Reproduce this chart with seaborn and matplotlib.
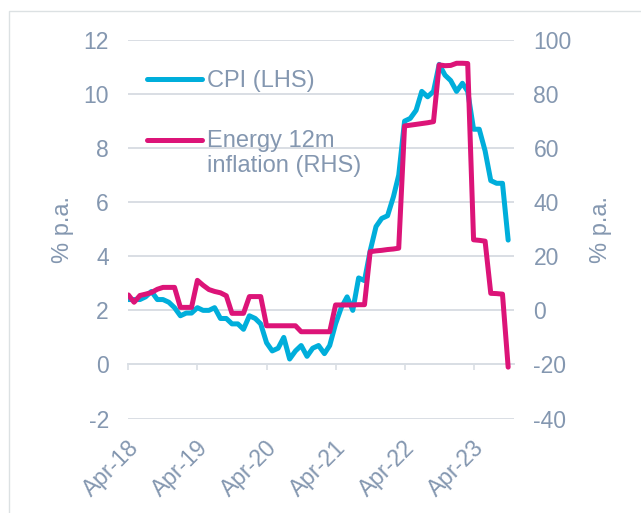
import pandas as pd
import seaborn as sns
import matplotlib.pyplot as plt
import matplotlib.dates as mdates
from matplotlib.patches import Rectangle
from matplotlib.transforms import ScaledTranslation

# monthly data, Apr-18 .. Oct-23
months = pd.date_range('2018-04-01', '2023-10-01', freq='MS')

cpi = [2.4, 2.4, 2.4, 2.5, 2.7, 2.4, 2.4, 2.3, 2.1,
       1.8, 1.9, 1.9, 2.1, 2.0, 2.0, 2.1, 1.7, 1.7, 1.5, 1.5, 1.3,
       1.8, 1.7, 1.5, 0.8, 0.5, 0.6, 1.0, 0.2, 0.5, 0.7, 0.3, 0.6,
       0.7, 0.4, 0.7, 1.5, 2.1, 2.5, 2.0, 3.2, 3.1, 4.2, 5.1, 5.4,
       5.5, 6.2, 7.0, 9.0, 9.1, 9.4, 10.1, 9.9, 10.1, 11.1, 10.7, 10.5,
       10.1, 10.4, 10.1, 8.7, 8.7, 7.9, 6.8, 6.7, 6.7, 4.6]

energy = [5.7, 3.0, 5.5, 6.0, 6.6, 7.8, 8.5, 8.5, 8.5,
          1.1, 1.1, 1.1, 11.1, 9.3, 7.7, 7.0, 6.5, 5.4, -1.1, -1.1, -1.1,
          5.1, 5.1, 5.1, -5.7, -5.7, -5.7, -5.7, -5.7, -5.7, -7.9, -7.9, -7.9,
          -7.9, -7.9, -7.9, 2.0, 2.0, 2.0, 2.0, 2.1, 2.1, 21.7, 22.0, 22.2,
          22.5, 22.7, 23.0, 68.2, 68.5, 68.8, 69.1, 69.4, 69.8, 90.8, 90.5, 90.6,
          91.4, 91.4, 91.3, 26.1, 25.9, 25.6, 6.3, 6.2, 6.0, -21.0]

left_ticks = [-2, 0, 2, 4, 6, 8, 10, 12]
right_ticks = [-40, -20, 0, 20, 40, 60, 80, 100]
tick_years = [2018, 2019, 2020, 2021, 2022, 2023]

df = pd.DataFrame({'month': months, 'cpi': cpi, 'energy': energy})

blue = '#00AEDB'
pink = '#DC1478'
grey_txt = '#8497B0'
grid_c = '#D9DEE4'

sns.set_theme(style='white')
plt.rcParams['font.family'] = ['Liberation Sans', 'DejaVu Sans']
plt.rcParams['axes.unicode_minus'] = False

fig = plt.figure(figsize=(6.41, 5.13), dpi=100)
ax = fig.add_axes([0.2003, 0.1842, 0.6016, 0.7378])
ax2 = ax.twinx()

sns.lineplot(data=df, x='month', y='cpi', ax=ax, color=blue, lw=3.6,
             solid_capstyle='round', solid_joinstyle='round')
sns.lineplot(data=df, x='month', y='energy', ax=ax2, color=pink, lw=3.6,
             solid_capstyle='round', solid_joinstyle='round')

ax.set_xlim(pd.Timestamp('2018-04-01'), pd.Timestamp('2023-11-01'))
ax.set_ylim(-2, 12)
ax2.set_ylim(-40, 100)
ax.set_yticks(left_ticks)
ax2.set_yticks(right_ticks)

ax.set_axisbelow(True)
ax.yaxis.grid(True, color=grid_c, lw=1.4)
ax.xaxis.grid(False)

for s in ['top', 'left', 'right']:
    ax.spines[s].set_visible(False)
for s in ax2.spines.values():
    s.set_visible(False)
ax.spines['bottom'].set_position(('data', 0))
ax.spines['bottom'].set_color(grid_c)
ax.spines['bottom'].set_linewidth(1.4)

ax.set_xticks([pd.Timestamp(f'{y}-04-01') for y in tick_years])
ax.xaxis.set_major_formatter(mdates.DateFormatter('%b-%y'))
ax.tick_params(axis='x', bottom=True, direction='out', length=4.3, width=1.2,
               color=grid_c, pad=53, labelsize=16.5, labelcolor=grey_txt)
ax.tick_params(axis='y', left=False, length=0, pad=14, labelsize=16.5,
               labelcolor=grey_txt)
ax2.tick_params(axis='y', right=False, length=0, pad=14, labelsize=16.5,
                labelcolor=grey_txt)

ax.set_xlabel('')
ax.set_ylabel('% p.a.', fontsize=17, color=grey_txt)
ax2.set_ylabel('% p.a.', fontsize=17, color=grey_txt)
ax.yaxis.set_label_coords(-0.141, 0.5)
ax2.yaxis.set_label_coords(1.197, 0.5)

# legend: handle sits next to the first line of the two-line label
h1 = ax.get_lines()[0]
h2 = ax2.get_lines()[0]
leg = ax2.legend([h1, h2], ['CPI (LHS)', 'Energy 12m\ninflation (RHS)'],
                 loc='upper left', bbox_to_anchor=(0.048, 0.921),
                 frameon=False, fontsize=17, labelcolor=grey_txt,
                 handlelength=2.35, handletextpad=0.2, labelspacing=1.6,
                 borderpad=0, borderaxespad=0)
eline = leg.get_lines()[1]
eline.set_ydata([y + 9.7 for y in eline.get_ydata()])

# light border round the chart
fig.patches.append(Rectangle((9 / 641, -0.5), 2, 1.5 - 10.5 / 513,
                             transform=fig.transFigure, fill=False,
                             edgecolor='#DCE1E3', lw=1.0))

fig.canvas.draw()
for lab in ax.get_xticklabels():
    lab.set_rotation(45)
    lab.set_rotation_mode('anchor')
    lab.set_ha('right')
    lab.set_va('center')
    lab.set_transform(lab.get_transform()
                      + ScaledTranslation(0.07, 0, fig.dpi_scale_trans))

fig.savefig('out.png', dpi=100)
